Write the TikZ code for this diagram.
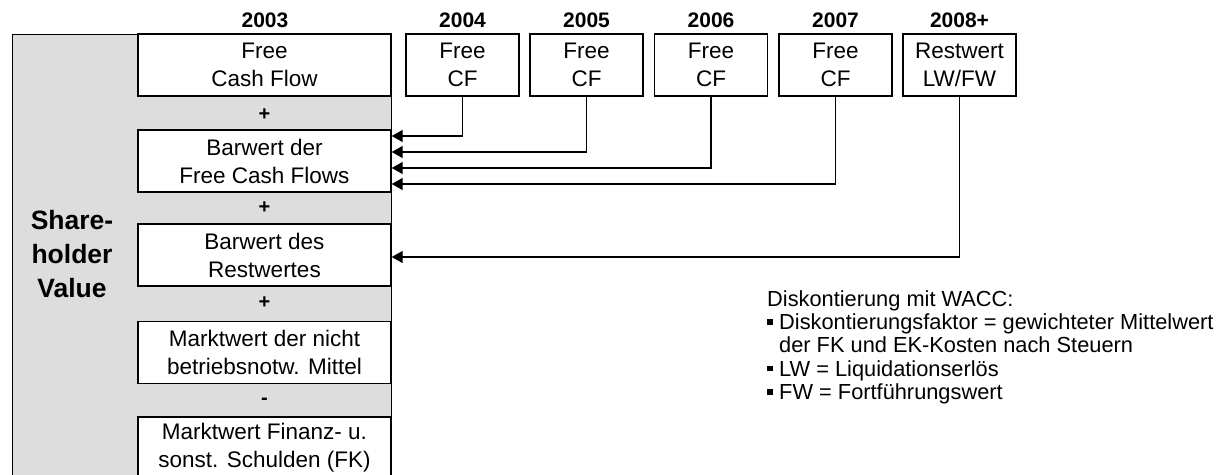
\documentclass[tikz,border=0pt]{standalone}
\usepackage{fontspec}
\setmainfont{Liberation Sans}
\usetikzlibrary{arrows.meta}
\definecolor{svgray}{HTML}{DDDDDD}
\tikzset{
  box/.style={draw=black, line width=1.4pt, fill=white, align=center, inner sep=0pt,
    font=\fontsize{22.5}{28}\selectfont},
  wide/.style={box, minimum width=253pt, minimum height=62pt},
  small/.style={box, minimum width=113pt, minimum height=62pt},
  year/.style={font=\fontsize{21}{22}\selectfont\bfseries, inner sep=0pt},
  op/.style={font=\fontsize{20}{22}\selectfont\bfseries, inner sep=0pt},
  arr/.style={draw=black, line width=1.4pt, -{Triangle[length=11pt,width=12pt]}},
}
\begin{document}
\begin{tikzpicture}[x=1pt,y=-1pt]
\useasboundingbox (0,0) rectangle (1228,474);
\clip (0,0) rectangle (1228,474);
% gray frame
\node (sv) [draw=black, line width=1.4pt, fill=svgray, minimum width=379pt, minimum height=460pt,
  anchor=north west, inner sep=0pt] at (12,34) {};
\node (svtext) [align=center, inner sep=0pt, font=\fontsize{26.5}{34}\selectfont\bfseries] at (72,254)
  {Share-\\holder\\Value};
% inner boxes
\node (b1) [wide] at (264.5,65) {Free\\Cash Flow};
\node (p1) [op] at (264.5,115) {+};
\node (b2) [wide] at (264.5,161) {Barwert der\\Free Cash Flows};
\node (p2) [op] at (264.5,208) {+};
\node (b3) [wide] at (264.5,255) {Barwert des\\Restwertes};
\node (p3) [op] at (264.5,303) {+};
\node (b4) [wide] at (264.5,352.5) {Marktwert der nicht\\betriebsnotw. Mittel};
\node (m1) [op] at (264.5,401) {-};
\node (b5) [wide] at (264.5,448) {Marktwert Finanz- u.\\sonst. Schulden (FK)};
% top boxes
\node (f04) [small] at (462.5,65) {Free\\CF};
\node (f05) [small] at (586.5,65) {Free\\CF};
\node (f06) [small] at (711,65) {Free\\CF};
\node (f07) [small] at (835.5,65) {Free\\CF};
\node (rw) [small] at (959.5,65) {Restwert\\LW/FW};
% years
\node (y03) [year] at (265,20) {2003};
\node (y04) [year] at (462.5,20) {2004};
\node (y05) [year] at (586.5,20) {2005};
\node (y06) [year] at (711,20) {2006};
\node (y07) [year] at (835.5,20) {2007};
\node (y08) [year] at (959.5,20) {2008+};
% connectors
\draw[arr] (f04.south) |- ([yshift=25pt]b2.east);
\draw[arr] (f05.south) |- ([yshift=9pt]b2.east);
\draw[arr] (f06.south) |- ([yshift=-7pt]b2.east);
\draw[arr] (f07.south) |- ([yshift=-23pt]b2.east);
\draw[arr] (rw.south) |- ([yshift=-2pt]b3.east);
% note
\newcommand{\sqb}{\rule[0.22em]{0.25em}{0.25em}\hspace{0.3em}}
\node (note) [anchor=north west, align=left, inner sep=0pt,
  font=\fontsize{21.8}{23.4}\selectfont] at (767,290)
  {Diskontierung mit WACC:\\
   \sqb Diskontierungsfaktor = gewichteter Mittelwert\\
   \hphantom{\sqb}der FK und EK-Kosten nach Steuern\\
   \sqb LW = Liquidationserlös\\
   \sqb FW = Fortführungswert};
\end{tikzpicture}
\end{document}
